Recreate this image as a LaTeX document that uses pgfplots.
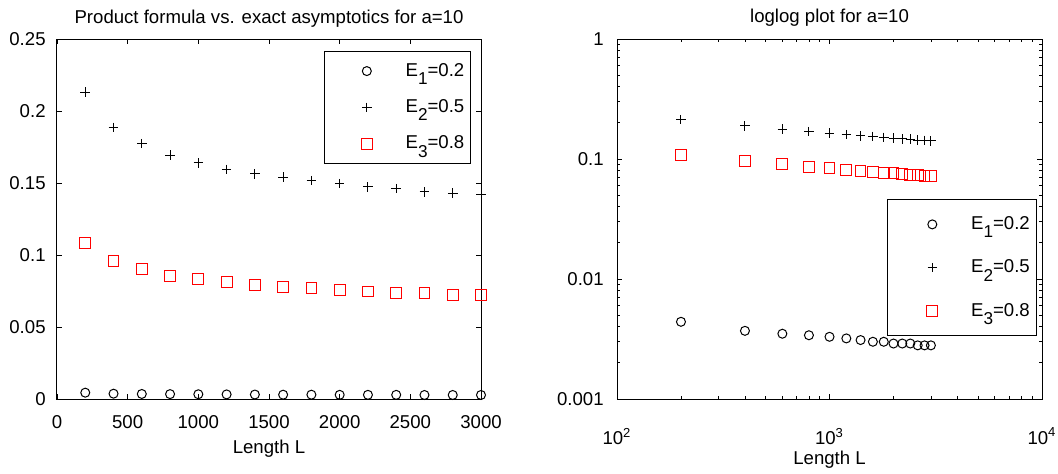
\documentclass[border=0pt]{standalone}
\usepackage{fontspec}
\setmainfont{Liberation Sans}
\usepackage{pgfplots}
\pgfplotsset{compat=1.18}
\newcommand{\sub}[1]{\raisebox{-0.45em}{\fontsize{8.6}{10}\selectfont #1}}
\pgfplotstableread{
L E1 E2 E3
200 0.0044 0.2130 0.1083
400 0.0037 0.1886 0.0958
600 0.0035 0.1773 0.0905
800 0.0034 0.1694 0.0856
1000 0.0033 0.1639 0.0836
1200 0.0032 0.1595 0.0815
1400 0.0031 0.1563 0.0792
1600 0.0030 0.1540 0.0780
1800 0.0030 0.1517 0.0769
2000 0.0029 0.1496 0.0759
2200 0.0029 0.1473 0.0746
2400 0.0029 0.1461 0.0736
2600 0.0028 0.1438 0.0736
2800 0.0028 0.1429 0.0725
3000 0.0028 0.1417 0.0725
}\data
\pgfplotsset{
  mstyle/.style={
    scale only axis, width=212pt, height=180pt,
    axis line style={line width=0.5pt}, clip=false,
    tick align=inside, major tick length=2.5pt, minor tick length=1.5pt,
    tick style={line width=0.4pt, black},
    title style={anchor=base, at={(axis description cs:0.5,1)}},
  },
  circ/.style={only marks, mark=o, mark size=2.25pt, black, mark options={line width=0.5pt}},
  pls/.style={only marks, mark=+, mark size=2.4pt, black, mark options={line width=0.5pt}},
  sqr/.style={only marks, mark=square, mark size=2.7pt, red, mark options={line width=0.5pt}},
}
\begin{document}
\fontsize{9.3}{11}\selectfont
\begin{tikzpicture}
\path[use as bounding box] (-28.5pt,-37pt) rectangle (500.5pt,199.5pt);
\begin{axis}[mstyle,
  at={(0pt,0pt)}, anchor=south west,
  xmin=0, xmax=3000, ymin=0, ymax=0.25,
  xtick={0,500,1000,1500,2000,2500,3000},
  xticklabels={0,500,1000,1500,2000,2500,3000},
  ytick={0,0.05,0.1,0.15,0.2,0.25},
  yticklabels={0,0.05,0.1,0.15,0.2,0.25},
  xticklabel style={yshift=-5pt},
  yticklabel style={xshift=-2.4pt},
  xlabel={Length L},
  xlabel style={at={(axis description cs:0.5,0)}, anchor=north, yshift=-17.4pt},
  title={Product formula vs. exact asymptotics for a=10},
  title style={yshift=2pt},
  legend style={at={(axis description cs:0.976,0.967)}, anchor=north east,
    draw=black, line width=0.5pt, inner xsep=1pt, inner ysep=3.9pt,
    row sep=6.25pt, font=\fontsize{9.3}{11}\selectfont},
  legend image code/.code={\path[draw=none,fill=none] (-20pt,0pt) -- (17.4pt,0pt);
    \draw[#1] plot coordinates {(0pt,0pt)};},
]
\addplot[circ] table[x=L,y=E1] {\data};
\addlegendentry{E\sub{1}=0.2}
\addplot[pls] table[x=L,y=E2] {\data};
\addlegendentry{E\sub{2}=0.5}
\addplot[sqr] table[x=L,y=E3] {\data};
\addlegendentry{E\sub{3}=0.8}
\end{axis}
\begin{axis}[mstyle, width=212.5pt,
  at={(280pt,0pt)}, anchor=south west,
  xmode=log, ymode=log,
  xmin=100, xmax=10000, ymin=0.001, ymax=1,
  xtick={100,1000,10000},
  xticklabels={10\textsuperscript{2},10\textsuperscript{3},10\textsuperscript{4}},
  ytick={0.001,0.01,0.1,1},
  yticklabels={0.001,0.01,0.1,1},
  xticklabel style={yshift=-11.2pt},
  yticklabel style={xshift=-3.4pt},
  xlabel={Length L},
  xlabel style={at={(axis description cs:0.5,0)}, anchor=north, yshift=-22.9pt},
  title={loglog plot for a=10},
  title style={yshift=2.5pt},
  legend style={at={(axis description cs:0.988,0.5556)}, anchor=north east,
    draw=black, line width=0.5pt, inner xsep=1.3pt, inner ysep=6.5pt,
    row sep=9.75pt, font=\fontsize{9.3}{11}\selectfont},
  legend image code/.code={\path[draw=none,fill=none] (-21pt,0pt) -- (17.4pt,0pt);
    \draw[#1] plot coordinates {(0pt,0pt)};},
]
\addplot[circ] table[x=L,y=E1] {\data};
\addlegendentry{E\sub{1}=0.2}
\addplot[pls] table[x=L,y=E2] {\data};
\addlegendentry{E\sub{2}=0.5}
\addplot[sqr] table[x=L,y=E3] {\data};
\addlegendentry{E\sub{3}=0.8}
\end{axis}
\end{tikzpicture}
\end{document}
